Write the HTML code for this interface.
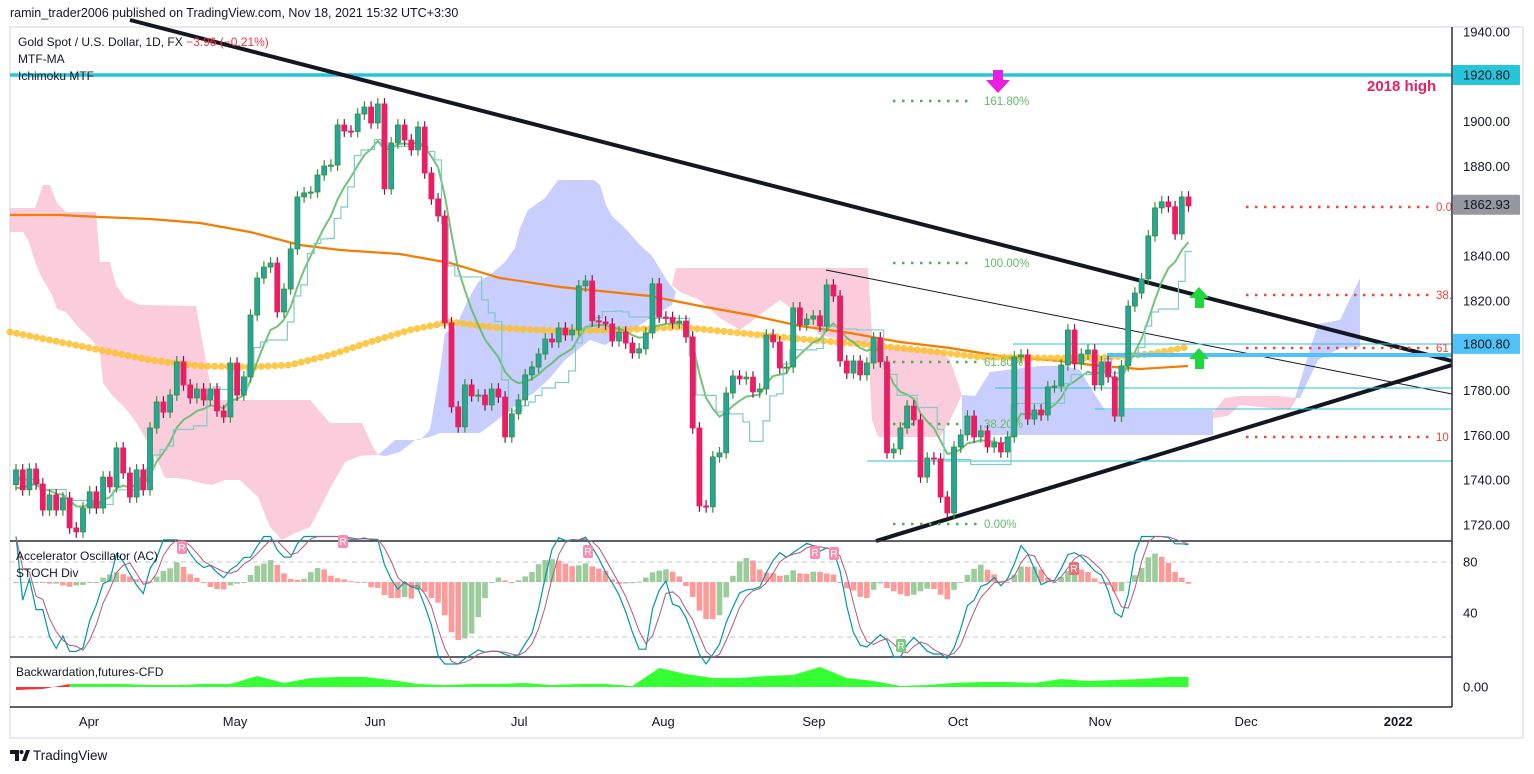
<!DOCTYPE html>
<html><head><meta charset="utf-8">
<style>
html,body{margin:0;padding:0;background:#fff;}
body{width:1534px;height:774px;overflow:hidden;position:relative;font-family:"Liberation Sans",sans-serif;}
svg{position:absolute;left:0;top:0;}
</style></head>
<body>
<svg id="chart" width="1534" height="774" viewBox="0 0 1534 774" xmlns="http://www.w3.org/2000/svg">
  <text x="10" y="17" font-size="12.5" fill="#131722" font-family="Liberation Sans, sans-serif">ramin_trader2006 published on TradingView.com, Nov 18, 2021 15:32 UTC+3:30</text>
  <rect x="10" y="27" width="1513" height="711" fill="none" stroke="#e0e3eb" stroke-width="1.5"/>
  <g id="clouds">
    <polygon fill="#f8bbd0" fill-opacity="0.75" points="10,208 35,208 43,185 50,185 57,203 66,212 96,212 100,262 110,262 116,285 125,298 140,305 196,306 203,345 213,400 310,400 330,423 362,423 372,445 378,455 370,455 360,456 345,462 333,483 320,508 310,527 295,533 282,540 270,527 258,497 240,480 225,480 212,485 200,483 190,480 178,478 165,478 158,462 148,443 136,422 125,408 112,395 103,383 100,352 92,340 78,327 66,312 57,309 52,295 42,278 35,262 29,242 23,232 10,232"/>
    <polygon fill="#c5cbfd" fill-opacity="0.95" points="378,455 386,448 395,440 420,440 430,430 440,370 445,333 455,328 468,300 478,282 490,275 505,262 515,248 520,228 528,210 545,198 558,180 594,180 600,185 606,205 612,216 625,228 640,245 652,256 668,282 676,292 672,305 655,315 640,325 620,335 605,345 590,340 580,348 565,360 550,378 535,392 520,402 500,418 480,433 440,433 430,437 415,440 400,452 385,456"/>
    <polygon fill="#f8bbd0" fill-opacity="0.75" points="672,285 676,268 868,268 872,335 880,345 940,350 950,360 962,395 950,420 940,437 878,437 872,420 868,345 820,335 800,315 780,300 760,315 740,330 720,318 700,300 680,292"/>
    <polygon fill="#c5cbfd" fill-opacity="0.95" points="962,395 975,396 990,372 1040,366 1065,366 1080,370 1095,395 1105,410 1213,410 1213,435 1105,435 1040,435 990,435 962,435"/>
    <polygon fill="#f8bbd0" fill-opacity="0.75" points="1213,412 1225,398 1240,396 1280,396 1297,398 1290,410 1240,405 1228,416 1213,418"/>
    <polygon fill="#c5cbfd" fill-opacity="0.95" points="1295,398 1318,324 1340,320 1360,278 1360,347 1340,348 1318,360 1300,398"/>
  </g>
  <polyline fill="none" stroke="#f57c00" stroke-width="2.2" points="10,215 60,215 100,217 150,219 200,223 250,232 300,245 340,250 400,254 450,263 500,278 560,287 600,291 650,296 700,306 750,315 800,326 850,333 900,342 950,348 1000,356 1060,361 1100,366 1140,369 1188,366"/>
  <polyline fill="none" stroke="#fbc02d" stroke-opacity="0.85" stroke-width="7" stroke-dasharray="0.1 6.6" stroke-linecap="round" points="10,332 60,342 100,350 150,360 200,366 250,367 290,365 330,355 370,342 410,330 450,322 500,328 560,331 620,330 680,327 740,333 800,339 860,344 920,350 980,357 1040,358 1100,358 1150,354 1188,347"/>
  <g id="overlays">
    <line x1="10" y1="75" x2="1452" y2="75" stroke="#26c6da" stroke-width="3.5"/>
    <line x1="130" y1="20" x2="1452" y2="361" stroke="#131722" stroke-width="4"/>
    <line x1="876" y1="541" x2="1452" y2="365" stroke="#131722" stroke-width="4"/>
    <line x1="826" y1="270" x2="1452" y2="394" stroke="#131722" stroke-width="1"/>
    <line x1="1013" y1="344" x2="1452" y2="344" stroke="#26c6da" stroke-width="1"/>
    <line x1="1107" y1="355" x2="1452" y2="355" stroke="#4fc3f7" stroke-width="4"/>
    <line x1="995" y1="388" x2="1452" y2="388" stroke="#26c6da" stroke-width="1"/>
    <line x1="1095" y1="409" x2="1452" y2="409" stroke="#26c6da" stroke-width="1"/>
    <line x1="867" y1="461" x2="1452" y2="461" stroke="#26c6da" stroke-width="1"/>
    <g stroke="#4caf50" stroke-width="2.5" stroke-dasharray="2.5 6.5">
      <line x1="893" y1="101" x2="968" y2="101"/>
      <line x1="893" y1="263" x2="968" y2="263"/>
      <line x1="893" y1="362" x2="978" y2="362"/>
      <line x1="893" y1="424" x2="978" y2="424"/>
      <line x1="893" y1="524" x2="978" y2="524"/>
    </g>
    <g font-size="11.5" fill="#66bb6a" font-family="Liberation Sans, sans-serif">
      <text x="984" y="105">161.80%</text>
      <text x="984" y="267">100.00%</text>
      <text x="984" y="366">61.80%</text>
      <text x="984" y="428">38.20%</text>
      <text x="984" y="528">0.00%</text>
    </g>
    <g stroke="#f44336" stroke-width="2.5" stroke-dasharray="2.5 6.5">
      <line x1="1246" y1="207" x2="1430" y2="207"/>
      <line x1="1246" y1="295" x2="1430" y2="295"/>
      <line x1="1246" y1="348" x2="1430" y2="348"/>
      <line x1="1246" y1="437" x2="1430" y2="437"/>
    </g>
    <g font-size="11.5" fill="#f44336" font-family="Liberation Sans, sans-serif">
      <text x="1436" y="211">0.0</text>
      <text x="1436" y="299">38.</text>
      <text x="1436" y="352">61</text>
      <text x="1436" y="441">10</text>
    </g>
    <text x="1367" y="91" font-size="15" font-weight="bold" fill="#e91e63" font-family="Liberation Sans, sans-serif">2018 high</text>
    <polygon points="993,70 1003,70 1003,80 1010,80 998,93 986,80 993,80" fill="#e91ee0"/>
    <polygon points="1195,308 1204,308 1204,298 1209,298 1199,287 1189,298 1195,298" fill="#1ed83c"/>
    <polygon points="1195,369 1204,369 1204,359 1209,359 1199,348 1189,359 1195,359" fill="#1ed83c"/>
  </g>
  <g id="maLines"></g>
  <g id="candles"></g>
  <g font-size="12" fill="#131722" font-family="Liberation Sans, sans-serif">
    <text x="18" y="46">Gold Spot / U.S. Dollar, 1D, FX <tspan fill="#f23645">−3.96 (−0.21%)</tspan></text>
    <text x="18" y="63">MTF-MA</text>
    <text x="18" y="80">Ichimoku MTF</text>
  </g>
  <!-- panes -->
  <line x1="10" y1="541" x2="1452" y2="541" stroke="#2a2e39" stroke-width="1.5"/>
  <line x1="10" y1="657" x2="1452" y2="657" stroke="#2a2e39" stroke-width="1.5"/>
  <line x1="10" y1="707" x2="1452" y2="707" stroke="#2a2e39" stroke-width="1.5"/>
  <line x1="10" y1="562" x2="1452" y2="562" stroke="#c8c8c8" stroke-dasharray="5 4"/>
  <line x1="10" y1="637" x2="1452" y2="637" stroke="#c8c8c8" stroke-dasharray="5 4"/>
  <g id="acPane"></g>
  <g id="bwPane"></g>
  <g font-size="12" fill="#131722" font-family="Liberation Sans, sans-serif">
    <text x="16" y="560">Accelerator Oscillator (AC)</text>
    <text x="16" y="577">STOCH Div</text>
    <text x="16" y="676">Backwardation,futures-CFD</text>
  </g>
  <line x1="1452" y1="27" x2="1452" y2="707" stroke="#2a2e39" stroke-width="1.5"/>
  <g id="axes"></g>
  <g>
    <path d="M10 750 h9 v11 h-4 v-7 h-5 z" fill="#131722"/>
    <circle cx="21.5" cy="752" r="2" fill="#131722"/>
    <path d="M22 761 l4 -11 h4 l-4 11 z" fill="#131722"/>
    <text x="33" y="760" font-size="13.5" fill="#131722" font-family="Liberation Sans, sans-serif">TradingView</text>
  </g>
</svg>
<script>
const closes=[1744.6,1735.7,1745.0,1738.3,1726.7,1733.4,1726.7,1732.1,1718.7,1716.9,
1727.6,1734.8,1727.6,1741.4,1737.0,1754.4,1743.2,1732.5,1744.6,1735.7,
1763.3,1774.9,1770.4,1778.0,1792.8,1782.5,1776.7,1780.7,1775.8,1780.7,
1770.9,1768.2,1792.3,1778.0,1786.1,1813.7,1830.2,1835.1,1836.9,1815.1,
1825.3,1843.2,1866.4,1868.2,1868.6,1876.2,1880.2,1880.6,1898.5,1895.8,
1895.6,1903.4,1906.5,1899.4,1907.9,1870.0,1890.5,1898.5,1891.8,1887.4,
1897.6,1877.1,1865.5,1857.9,1810.2,1772.7,1763.8,1782.5,1777.6,1778.0,
1773.6,1780.7,1777.1,1759.3,1769.6,1775.8,1787.0,1790.5,1796.3,1803.0,
1801.7,1807.9,1804.8,1807.0,1826.7,1828.9,1811.1,1810.6,1809.7,1802.1,
1806.1,1801.2,1796.8,1798.6,1805.7,1827.6,1812.8,1812.6,1810.2,1811.0,
1803.9,1763.3,1728.5,1728.1,1750.4,1752.2,1778.9,1786.5,1785.2,1786.0,
1779.4,1780.7,1804.8,1801.7,1790.1,1790.5,1816.9,1809.3,1811.9,1813.3,
1808.8,1827.1,1822.2,1793.2,1787.8,1793.2,1787.0,1792.3,1803.5,1792.8,
1752.2,1753.9,1763.3,1773.1,1766.9,1741.4,1749.9,1749.5,1732.5,1725.4,
1754.8,1760.2,1768.6,1759.3,1762.0,1754.8,1756.6,1752.6,1759.3,1795.0,
1795.9,1767.3,1771.3,1769.1,1781.6,1782.0,1791.4,1807.0,1791.9,1796.3,
1798.1,1782.5,1792.8,1786.1,1768.6,1791.0,1817.7,1823.5,1829.8,1849.0,
1861.5,1864.2,1862.0,1849.9,1866.4,1862.4];
const firstOpen=1738.0;
const wickSize=2.6;
const priceTicks=[1940,1900,1880,1840,1820,1780,1760,1740,1720];
const priceBadges=[1920.80,1862.93,1800.80];
const monthLabels=['Apr','May','Jun','Jul','Aug','Sep','Oct','Nov','Dec','2022'];
const monthIdx=[10.9,32.7,53.6,75.1,96.6,119.1,140.6,161.8,183.6,206.3];
const stochTicks=[80,40];
const bwValues=[-3,-2,3,3,3,2,2,3,3,11,4,9,10,10,7,3,2,3,3,4,2,3,3,1,19,13,9,9,11,12,20,9,6,1,2,4,5,5,4,8,6,7,8,10];

const NS='http://www.w3.org/2000/svg';
function xOf(i){return 16+i*6.70;}
function yOf(p){return 32+(1940-p)*2.2409;}
function stY(v){return 562+(80-v)*1.275;}
function bwY(v){return 687-v;}
function mk(tag,attrs,parent){const e=document.createElementNS(NS,tag);for(const k in attrs)e.setAttribute(k,attrs[k]);parent.appendChild(e);return e;}

// candles
const cg=document.getElementById('candles');
const opens=closes.map((c,i)=>i===0?firstOpen:closes[i-1]);
for(let i=0;i<closes.length;i++){
  const o=opens[i],c=closes[i],up=c>=o;
  const hi=Math.max(o,c)+wickSize,lo=Math.min(o,c)-wickSize;
  const x=xOf(i);
  const w=mk('line',{x1:x,x2:x,y1:yOf(hi),y2:yOf(lo),stroke:up?'#388e3c':'#880e4f','stroke-width':1.2},cg);
  
  
  const top=yOf(Math.max(o,c)),bot=yOf(Math.min(o,c));
  const b=mk('rect',{x:x-2.5,y:top,width:5,height:Math.max(1.2,bot-top),fill:up?'#26a69a':'#e91e63',stroke:up?'#388e3c':'#e91e63','stroke-width':0.8},cg);
  
  
}

// MA lines (EMA + kijun step)
const mg=document.getElementById('maLines');
let ema=[],e=closes[0]-8;const k=2/11;
closes.forEach((c,i)=>{e=i===0?e:e+k*(c-e);ema.push(e);});
const emaPl=mk('polyline',{fill:'none',stroke:'#66bb6a','stroke-width':2,'stroke-opacity':0.9,points:ema.map((v,i)=>xOf(i)+','+yOf(v)).join(' ')},mg);


let kij=[];
for(let i=0;i<closes.length;i++){let hh=-1e9,ll=1e9;for(let j=Math.max(0,i-8);j<=i;j++){hh=Math.max(hh,opens[j],closes[j]);ll=Math.min(ll,opens[j],closes[j]);}kij.push((hh+ll)/2);}
let kp=[];kij.forEach((v,i)=>{kp.push((xOf(i)-3.35)+','+yOf(v));kp.push((xOf(i)+3.35)+','+yOf(v));});
const kPl=mk('polyline',{fill:'none',stroke:'#80cbc4','stroke-width':1.2,points:kp.join(' ')},mg);



// AC
const ag=document.getElementById('acPane');
function sma(arr,n,i){let s=0,c=0;for(let j=Math.max(0,i-n+1);j<=i;j++){s+=arr[j];c++;}return s/c;}
const ao=closes.map((c,i)=>sma(closes,5,i)-sma(closes,34,i));
const ac=ao.map((v,i)=>v-sma(ao,5,i));
const acMax=Math.max(...ac.map(Math.abs));
function acY(v){return 582-v/acMax*58;}
ac.forEach((v,i)=>{
  const rising=i>0&&v>=ac[i-1];
  const y0=582,y1=acY(v);
  const r=mk('rect',{x:xOf(i)-2.8,y:Math.min(y0,y1),width:5.6,height:Math.max(1,Math.abs(y1-y0)),fill:rising?'#9ccc9c':'#ff9a9a'},ag);
  
  
});
// Stoch
let rawK=[];
for(let i=0;i<closes.length;i++){let hh=-1e9,ll=1e9;for(let j=Math.max(0,i-13);j<=i;j++){hh=Math.max(hh,opens[j],closes[j])+0;ll=Math.min(ll,opens[j],closes[j]);}rawK.push(hh===ll?50:(closes[i]-ll)/(hh-ll)*100);}
const kLine=rawK.map((v,i)=>sma(rawK,3,i));
const dLine=kLine.map((v,i)=>sma(kLine,3,i));
function clampS(v){return Math.max(-8,Math.min(104,v));}
const kp2=mk('polyline',{fill:'none',stroke:'#0097a7','stroke-width':1.2,points:kLine.map((v,i)=>xOf(i)+','+stY(clampS(v))).join(' ')},ag);


const dp2=mk('polyline',{fill:'none',stroke:'#b0597f','stroke-width':1,points:dLine.map((v,i)=>xOf(i)+','+stY(clampS(v))).join(' ')},ag);


// R markers
const rMarks=[[182,547,'#f48fb1'],[343,541,'#f48fb1'],[588,551,'#f48fb1'],[815,552,'#f48fb1'],[834,553,'#f48fb1'],[901,645,'#81c784'],[1074,568,'#e57373']];
rMarks.forEach(m=>{
  const rr=mk('rect',{x:m[0]-5,y:m[1]-6,width:10,height:13,rx:2,fill:m[2]},ag);
  
  
  const t=mk('text',{x:m[0],y:m[1]+4,'font-size':10,fill:'#fff','text-anchor':'middle','font-family':'Liberation Sans, sans-serif'},ag);
  t.textContent='R';
  
  
});

// Backwardation
const bg=document.getElementById('bwPane');
bwValues.forEach((v,kk)=>{
  const i0=kk*4,i1=Math.min(kk*4+4,closes.length-1);
  const nv=kk+1<bwValues.length?bwValues[kk+1]:v;
  const pts=[xOf(i0)+','+bwY(0),xOf(i0)+','+bwY(v),xOf(i1)+','+bwY(nv),xOf(i1)+','+bwY(0)];
  const p=mk('polygon',{points:pts.join(' '),fill:(v<0?'#ff3030':'#33ff33')},bg);
  
  
});

// axes
const ax=document.getElementById('axes');
priceTicks.forEach(p=>{
  const t=mk('text',{x:1463,y:yOf(p)+4.5,'font-size':13,fill:'#131722','font-family':'Liberation Sans, sans-serif'},ax);
  t.textContent=p.toFixed(2);
  
  
});
const badgeFill=['#26c6da','#9598a1','#4fc3f7'];
priceBadges.forEach((p,i)=>{
  const r=mk('rect',{x:1453,y:yOf(p)-10,width:67,height:20,fill:badgeFill[i],rx:1},ax);
  
  
  const t=mk('text',{x:1463,y:yOf(p)+4.5,'font-size':13,fill:'#131722','font-family':'Liberation Sans, sans-serif'},ax);
  t.textContent=p.toFixed(2);
  
  
});
stochTicks.forEach(v=>{
  const t=mk('text',{x:1463,y:stY(v)+4.5,'font-size':13,fill:'#131722','font-family':'Liberation Sans, sans-serif'},ax);
  t.textContent=String(v);
  
  
});
const z=mk('text',{x:1463,y:bwY(0)+4.5,'font-size':13,fill:'#131722','font-family':'Liberation Sans, sans-serif'},ax);
z.textContent='0.00';


monthLabels.forEach((m,i)=>{
  const t=mk('text',{x:xOf(monthIdx[i]),y:726,'font-size':13,fill:'#131722','text-anchor':'middle','font-family':'Liberation Sans, sans-serif','font-weight':m==='2022'?'bold':'normal'},ax);
  t.textContent=m;
  
  
});
</script>
</body></html>
